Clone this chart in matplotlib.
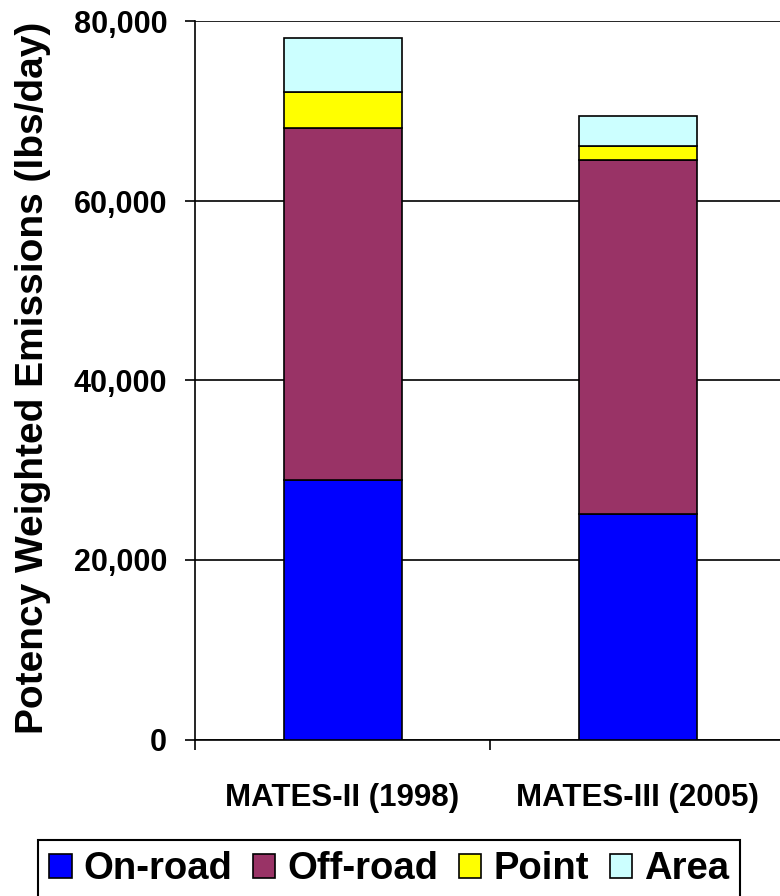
import matplotlib
matplotlib.use("Agg")
import matplotlib.pyplot as plt
import numpy as np

# potency weighted emissions (lbs/day)
CATS = ["MATES-II (1998)", "MATES-III (2005)"]
ON_ROAD = [28900, 25150]
OFF_ROAD = [39250, 39450]
POINT = [4000, 1550]
AREA = [6000, 3350]
SERIES = ["On-road", "Off-road", "Point", "Area"]
COLORS = ["#0000FF", "#993366", "#FFFF00", "#CCFFFF"]

plt.rcParams["font.family"] = ["Liberation Sans", "DejaVu Sans"]
plt.rcParams["font.weight"] = "bold"

fig = plt.figure(figsize=(7.8, 8.96), dpi=100)
ax = fig.add_axes([195 / 780, 156.5 / 896, 590 / 780, 718 / 896])

x = np.arange(len(CATS))
bottom = np.zeros(len(CATS))
for name, vals, col in zip(SERIES, [ON_ROAD, OFF_ROAD, POINT, AREA], COLORS):
    ax.bar(x, vals, 0.4, bottom=bottom, color=col, edgecolor="black", linewidth=1.2,
           label=name, zorder=3)
    bottom += np.array(vals)

ax.set_xlim(-0.5, 1.5)
ax.set_ylim(0, 80000)
ax.set_yticks([0, 20000, 40000, 60000, 80000])
ax.set_yticklabels([f"{v:,}" for v in ax.get_yticks().astype(int)])
ax.yaxis.grid(True, color="black", linewidth=1.2, zorder=0)
ax.set_axisbelow(True)
for s in ("top", "right"):
    ax.spines[s].set_visible(False)
for s in ("left", "bottom"):
    ax.spines[s].set_linewidth(1.2)
ax.tick_params(axis="y", direction="out", length=7, width=1.2, pad=13, labelsize=22)

ax.set_xticks(x)
ax.set_xticklabels(CATS, fontsize=22.5, fontweight="bold")
ax.set_xticks([-0.5, 0.5, 1.5], minor=True)
ax.tick_params(axis="x", which="major", length=0, pad=31)
ax.tick_params(axis="x", which="minor", direction="out", length=7, width=1.2)

fig.text(33 / 780, 1 - 378 / 896, "Potency Weighted Emissions (lbs/day)", rotation=90,
         ha="center", va="center", fontsize=28, fontweight="bold")

leg = fig.legend(loc="upper left", bbox_to_anchor=(38 / 780, 1 - 840 / 896), ncol=4,
                 prop={"size": 27.5, "weight": "bold"},
                 frameon=True, fancybox=False, framealpha=1,
                 edgecolor="black", borderaxespad=0, borderpad=0.3,
                 handlelength=0.58, handleheight=0.6, handletextpad=0.31,
                 columnspacing=0.55)
leg.get_frame().set_linewidth(1.5)

fig.savefig("out.png", dpi=100, facecolor="white")
